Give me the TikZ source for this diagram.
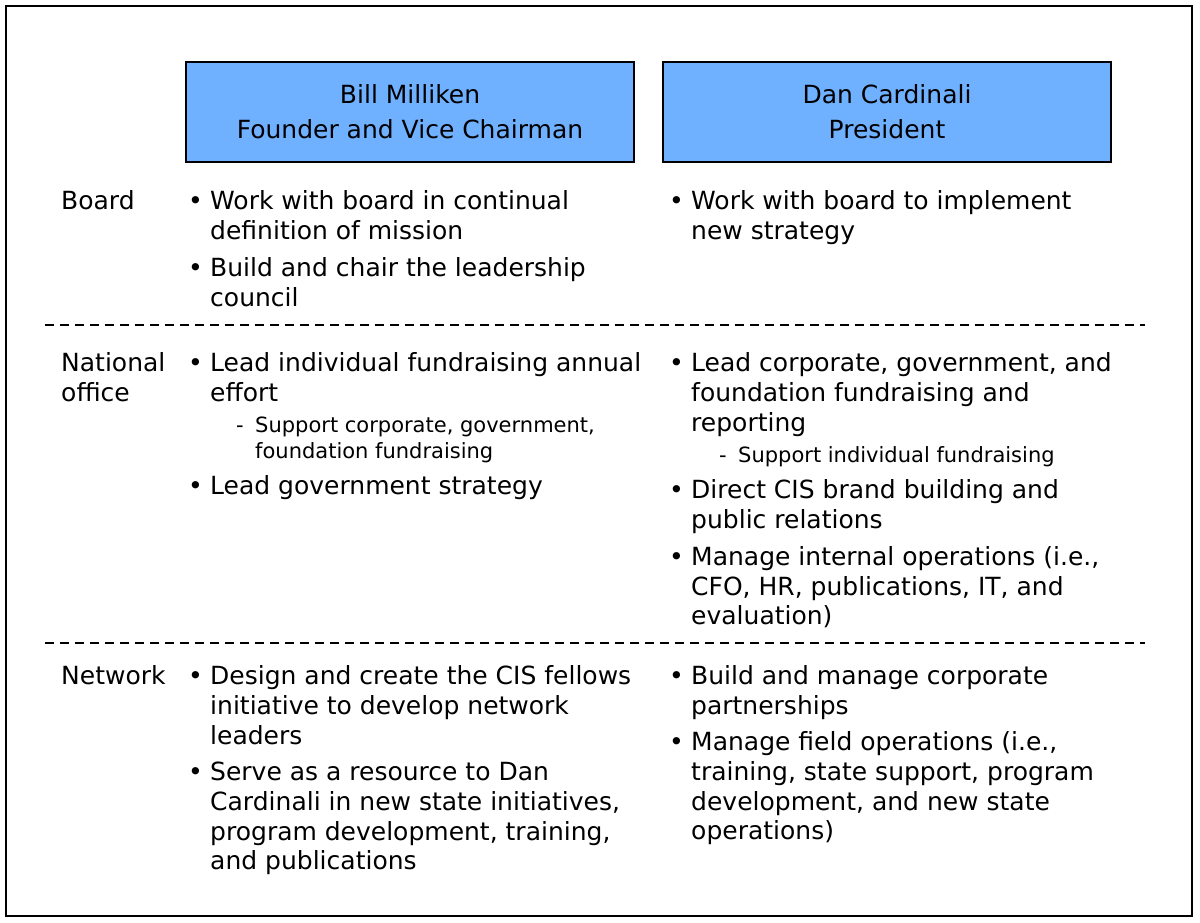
\documentclass[tikz,border=0pt]{standalone}
\usepackage{fontspec}
\setmainfont{DejaVu Sans}
\definecolor{hdr}{HTML}{6FB0FF}
\tikzset{txt/.style={anchor=base west,inner sep=0pt,font=\fontsize{25}{30}\selectfont},
 sub/.style={anchor=base west,inner sep=0pt,font=\fontsize{21}{24}\selectfont},
 hbox/.style={draw=black,line width=1.2pt,fill=hdr,minimum width=448pt,minimum height=100pt,align=center,font=\fontsize{25}{35}\selectfont},
 sep/.style={dashed,line width=1.2pt,dash pattern=on 9pt off 6pt}}
\newcommand\tl[3]{\node[txt] at ({#1},{#2+9}) {#3};}
\newcommand\bl[3]{\node[txt] at ({#1-22},{#2+9}) {•};\node[txt] at ({#1},{#2+9}) {#3};}
\newcommand\subl[3]{\node[sub] at ({#1-19},{#2+7}) {-};\node[sub] at ({#1},{#2+7}) {#3};}
\newcommand\subll[3]{\node[sub] at ({#1},{#2+7}) {#3};}
\begin{document}
\begin{tikzpicture}[x=1pt,y=-1pt]
\useasboundingbox (0,0) rectangle (1200,922);
\draw[line width=1.2pt] (6,6) rectangle (1192,916);
\node[hbox] (bill) at (410,112) {Bill Milliken\\Founder and Vice Chairman};
\node[hbox] (dan) at (887,112) {Dan Cardinali\\President};
\draw[sep] (45,325) -- (1145,325);
\draw[sep] (45,643) -- (1145,643);
% Board
\tl{61}{200}{Board}
\bl{210}{200}{Work with board in continual}
\tl{210}{230}{definition of mission}
\bl{210}{267}{Build and chair the leadership}
\tl{210}{297}{council}
\bl{691}{200}{Work with board to implement}
\tl{691}{230}{new strategy}
% National office
\tl{61}{362}{National}
\tl{61}{392}{office}
\bl{210}{362}{Lead individual fundraising annual}
\tl{210}{392}{effort}
\subl{255}{425}{Support corporate, government,}
\subll{255}{451}{foundation fundraising}
\bl{210}{485}{Lead government strategy}
\bl{691}{362}{Lead corporate, government, and}
\tl{691}{392}{foundation fundraising and}
\tl{691}{422}{reporting}
\subl{738}{455}{Support individual fundraising}
\bl{691}{489}{Direct CIS brand building and}
\tl{691}{519}{public relations}
\bl{691}{556}{Manage internal operations (i.e.,}
\tl{691}{586}{CFO, HR, publications, IT, and}
\tl{691}{615}{evaluation)}
% Network
\tl{61}{675}{Network}
\bl{210}{675}{Design and create the CIS fellows}
\tl{210}{705}{initiative to develop network}
\tl{210}{735}{leaders}
\bl{210}{771}{Serve as a resource to Dan}
\tl{210}{801}{Cardinali in new state initiatives,}
\tl{210}{831}{program development, training,}
\tl{210}{860}{and publications}
\bl{691}{675}{Build and manage corporate}
\tl{691}{705}{partnerships}
\bl{691}{741}{Manage field operations (i.e.,}
\tl{691}{771}{training, state support, program}
\tl{691}{801}{development, and new state}
\tl{691}{830}{operations)}
\end{tikzpicture}
\end{document}
